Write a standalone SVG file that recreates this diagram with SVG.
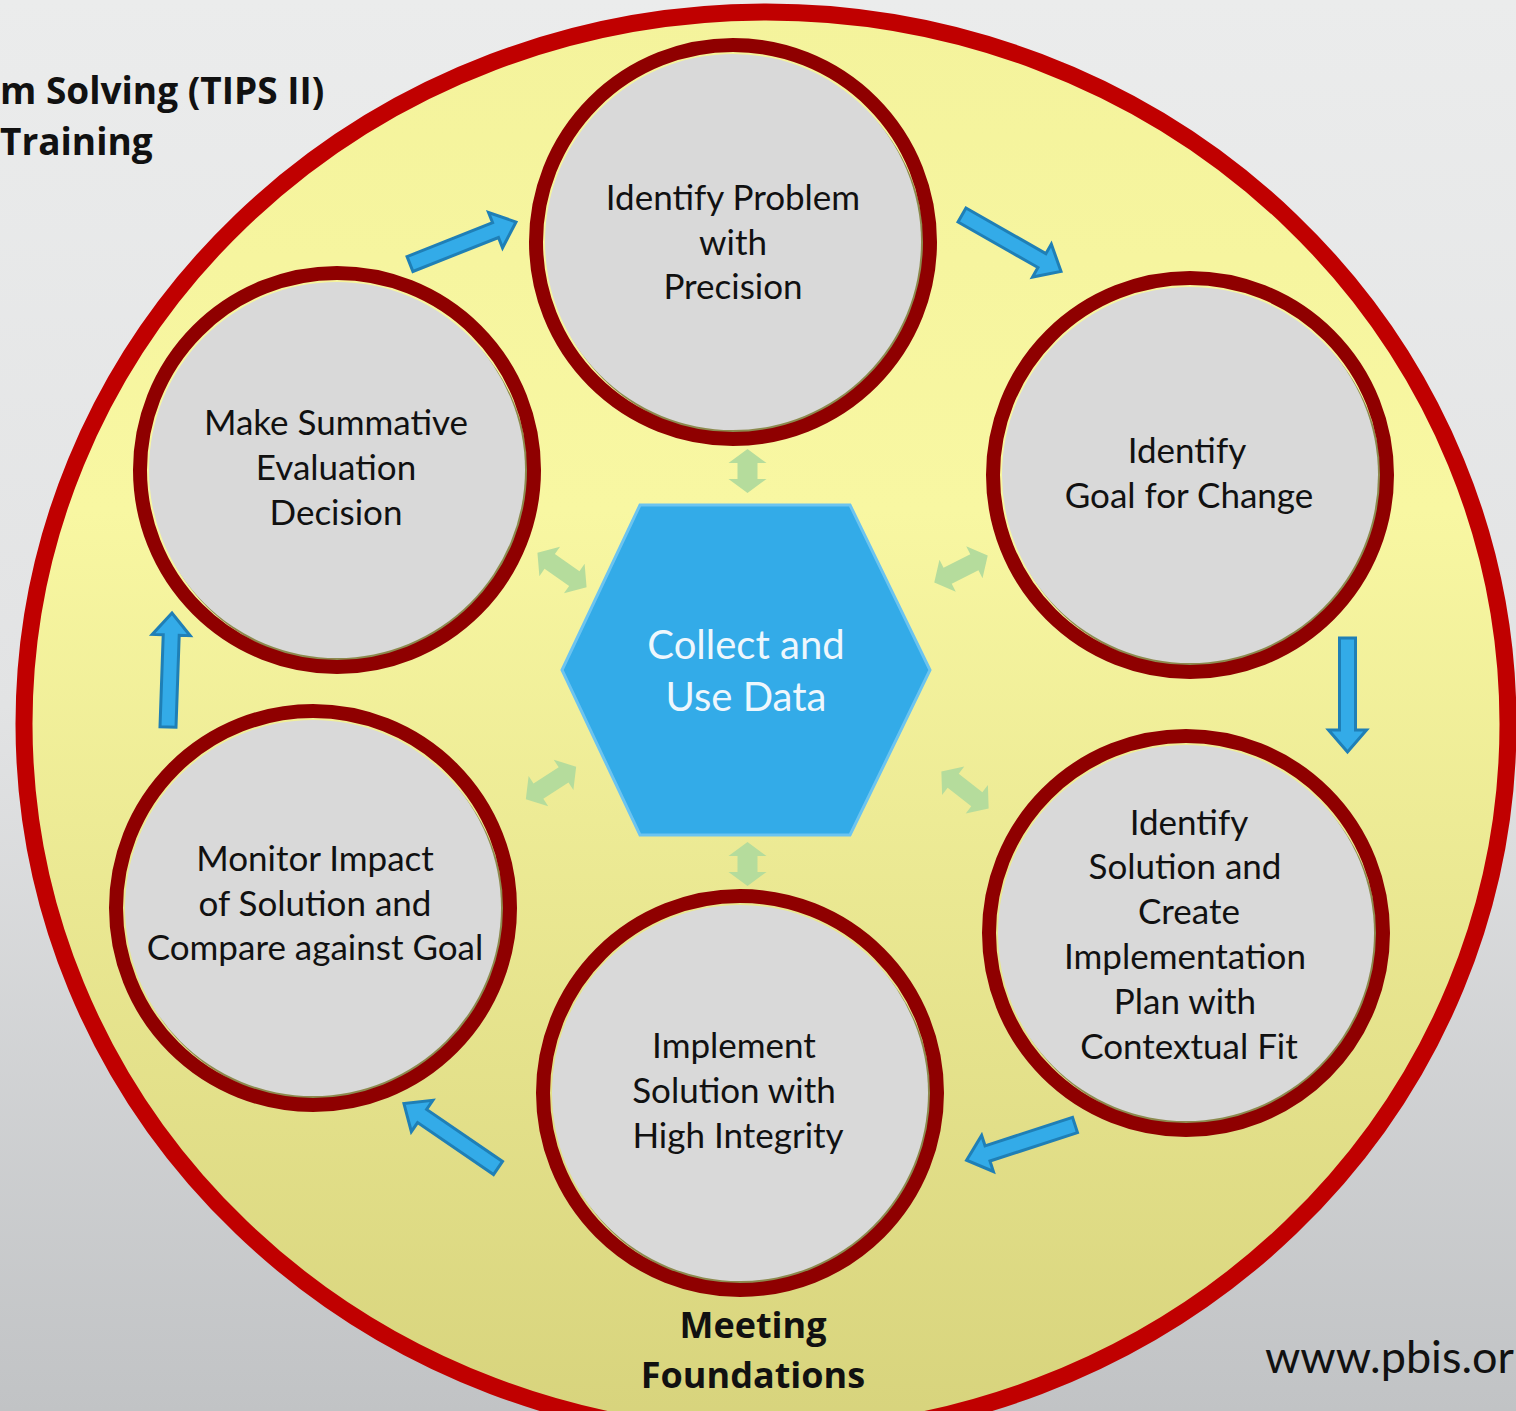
<svg xmlns="http://www.w3.org/2000/svg" xmlns:xlink="http://www.w3.org/1999/xlink" width="1516" height="1411" viewBox="0 0 1516 1411">
<defs>
<linearGradient id="bg" x1="0" y1="0" x2="0" y2="1">
<stop offset="0" stop-color="#ebecec"/>
<stop offset="0.5" stop-color="#e2e3e4"/>
<stop offset="1" stop-color="#c1c3c5"/>
</linearGradient>
<linearGradient id="yel" x1="0" y1="0" x2="0" y2="1">
<stop offset="0" stop-color="#f4f39c"/>
<stop offset="0.35" stop-color="#f8f7a2"/>
<stop offset="1" stop-color="#d7d37c"/>
</linearGradient>
<polygon id="blk" points="0,-8 92,-8 92,-19 114,0 92,19 92,8 0,8"/>
<polygon id="dblS" points="-22,0 -8,-19 -8,-10 8,-10 8,-19 22,0 8,19 8,10 -8,10 -8,19"/>
<polygon id="dblL" points="-30,0 -15,-18 -15,-9 15,-9 15,-18 30,0 15,18 15,9 -15,9 -15,18"/>
</defs>
<style>
.ring{fill:none;stroke:#8f0000;stroke-width:14}
.disc{fill:#d9d9d9}
.shadow{fill:#8c8a4e}
.lbl{font-family:Lato,"Open Sans",sans-serif;font-size:35px;fill:#111;text-anchor:middle}
.blue use{fill:#33abe8;stroke:#1f7fb6;stroke-width:3;stroke-linejoin:miter}
.green use{fill:#b5dc9c}
.bold{font-family:"Open Sans","Noto Sans",sans-serif;font-weight:bold;fill:#111}
</style>
<rect width="1516" height="1411" fill="url(#bg)"/>
<text class="bold" x="0" y="104" font-size="37">m Solving (TIPS II)</text>
<text class="bold" x="0" y="155" font-size="37">Training</text>
<ellipse cx="766" cy="724" rx="742" ry="712" fill="url(#yel)" stroke="#c00000" stroke-width="17"/>
<text x="1265" y="1373" font-family="Lato,'Open Sans',sans-serif" font-size="45" fill="#111">www.pbis.or</text>

<g id="connectors">
<g class="blue">
<use href="#blk" transform="translate(410,264) rotate(-21.6)"/>
<use href="#blk" transform="translate(962,215) rotate(29.7)"/>
<use href="#blk" transform="translate(1347.5,638) rotate(90)"/>
<use href="#blk" transform="translate(1075,1125) rotate(162)"/>
<use href="#blk" transform="translate(498,1168) rotate(-145.6)"/>
<use href="#blk" transform="translate(168,727) rotate(-88)"/>
</g>
<g class="green">
<use href="#dblS" transform="translate(747.5,471) rotate(90)"/>
<use href="#dblS" transform="translate(747.5,864) rotate(90)"/>
<use href="#dblL" transform="translate(562,570) rotate(35)"/>
<use href="#dblL" transform="translate(961,569) rotate(-27)"/>
<use href="#dblL" transform="translate(551,783) rotate(-33)"/>
<use href="#dblL" transform="translate(965,790) rotate(38)"/>
</g>
</g>

<g id="hub">
<polygon points="640,505 850,505 930,670 850,835 640,835 562,670" fill="#33abe8" stroke="#6cc4f0" stroke-width="3"/>
<text x="746" y="659" font-family="Lato,'Open Sans',sans-serif" font-size="40" fill="#eef7fd" text-anchor="middle">Collect and</text>
<text x="746" y="711" font-family="Lato,'Open Sans',sans-serif" font-size="40" fill="#eef7fd" text-anchor="middle">Use Data</text>
</g>

<g id="n1">
<circle class="shadow" cx="736" cy="246" r="188"/>
<circle class="disc" cx="733" cy="242" r="188"/>
<circle class="ring" cx="733" cy="242" r="197"/>
<text class="lbl" x="733" y="210">Identify Problem</text>
<text class="lbl" x="733" y="255">with</text>
<text class="lbl" x="733" y="299">Precision</text>
</g>
<g id="n2">
<circle class="shadow" cx="1193" cy="479" r="188"/>
<circle class="disc" cx="1190" cy="475" r="188"/>
<circle class="ring" cx="1190" cy="475" r="197"/>
<text class="lbl" x="1187" y="463">Identify</text>
<text class="lbl" x="1189" y="508">Goal for Change</text>
</g>
<g id="n3">
<circle class="shadow" cx="1189" cy="937" r="188"/>
<circle class="disc" cx="1186" cy="933" r="188"/>
<circle class="ring" cx="1186" cy="933" r="197"/>
<text class="lbl" x="1189" y="835">Identify</text>
<text class="lbl" x="1185" y="879">Solution and</text>
<text class="lbl" x="1189" y="924">Create</text>
<text class="lbl" x="1185" y="969">Implementation</text>
<text class="lbl" x="1185" y="1014">Plan with</text>
<text class="lbl" x="1189" y="1059">Contextual Fit</text>
</g>
<g id="n4">
<circle class="shadow" cx="743" cy="1097" r="188"/>
<circle class="disc" cx="740" cy="1093" r="188"/>
<circle class="ring" cx="740" cy="1093" r="197"/>
<text class="lbl" x="734" y="1058">Implement</text>
<text class="lbl" x="734" y="1103">Solution with</text>
<text class="lbl" x="738" y="1148">High Integrity</text>
</g>
<g id="n5">
<circle class="shadow" cx="316" cy="912" r="188"/>
<circle class="disc" cx="313" cy="908" r="188"/>
<circle class="ring" cx="313" cy="908" r="197"/>
<text class="lbl" x="315" y="871">Monitor Impact</text>
<text class="lbl" x="315" y="916">of Solution and</text>
<text class="lbl" x="315" y="960">Compare against Goal</text>
</g>
<g id="n6">
<circle class="shadow" cx="340" cy="474" r="188"/>
<circle class="disc" cx="337" cy="470" r="188"/>
<circle class="ring" cx="337" cy="470" r="197"/>
<text class="lbl" x="336" y="435">Make Summative</text>
<text class="lbl" x="336" y="480">Evaluation</text>
<text class="lbl" x="336" y="525">Decision</text>
</g>

<g id="footer">
<text class="bold" x="753" y="1338" font-size="36" text-anchor="middle">Meeting</text>
<text class="bold" x="753" y="1388" font-size="36" text-anchor="middle">Foundations</text>
</g>
</svg>
